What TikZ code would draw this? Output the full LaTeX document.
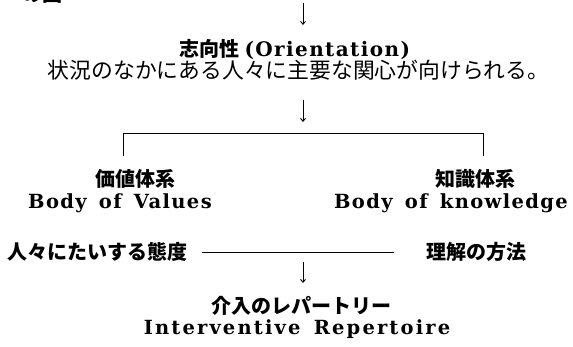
\documentclass[tikz,border=0pt]{standalone}
\usepackage{fontspec}
\usetikzlibrary{arrows.meta}
\setmainfont{DejaVu Serif}
\newfontfamily\jp{Noto Sans CJK JP}
\newfontfamily\lat[LetterSpace=7,WordSpace=1.5]{DejaVu Serif}
\newfontfamily\latw[LetterSpace=11,WordSpace=1.5]{DejaVu Serif}
\begin{document}
\begin{tikzpicture}[x=1pt,y=-1pt,
  jpb/.style={inner sep=0pt, anchor=base, font={\jp\bfseries\fontsize{20}{24}\selectfont}},
  jpr/.style={inner sep=0pt, anchor=base, font={\jp\fontsize{21.8}{26}\selectfont}},
  latb/.style={inner sep=0pt, anchor=base, font={\lat\bfseries\fontsize{19.5}{22}\selectfont}},
  arr/.style={line width=0.9pt, -{Straight Barb[length=3pt,width=5pt]}},
  conn/.style={line width=0.9pt}]
\fill[white] (0,0) rectangle (573,346);
\useasboundingbox (0,0) rectangle (573,346);
\begin{scope}
\clip (0,0) rectangle (573,346);
\node[jpb, anchor=base west] (frag) at (22,1.5) {の図};
\end{scope}
% nodes
\node[jpb] (orient) at (295,56) {志向性 {\lat\bfseries\fontsize{20}{24}\selectfont (Orientation)}};
\node[jpr] (expl) at (298.5,78.3) {状況のなかにある人々に主要な関心が向けられる。};
\node[jpb] (valj) at (135,186) {価値体系};
\node[jpb] (knowj) at (475,186) {知識体系};
\node[latb] (vale) at (120,208) {Body of Values};
\node[latb] (knowe) at (451,208) {Body of knowledge};
\node[jpb, anchor=base west] (att) at (7,259) {人々にたいする態度};
\node[jpb, anchor=base east] (meth) at (527,259) {理解の方法};
\node[jpb] (rep) at (301,313) {介入のレパートリー};
\node[latb, font={\latw\bfseries\fontsize{19.5}{22}\selectfont}] (repe) at (297,334) {Interventive Repertoire};
% coordinates
\coordinate (a1s) at (303,3);
\coordinate (a1e) at (303,25);
\coordinate (a2s) at (303,100);
\coordinate (a2e) at (303,122);
\coordinate (bl) at (123,156);
\coordinate (br) at (483,156);
\coordinate (a3s) at (303,262);
\coordinate (a3e) at (303,283);
% connectors
\draw[arr] (a1s) -- (a1e);
\draw[arr] (a2s) -- (a2e);
\draw[conn] (bl) -- ++(0,-23) -| (br);
\draw[conn] ([xshift=15pt,yshift=7pt]att.base east) -- ([xshift=-33pt,yshift=7pt]meth.base west);
\draw[arr] (a3s) -- (a3e);
\end{tikzpicture}
\end{document}
